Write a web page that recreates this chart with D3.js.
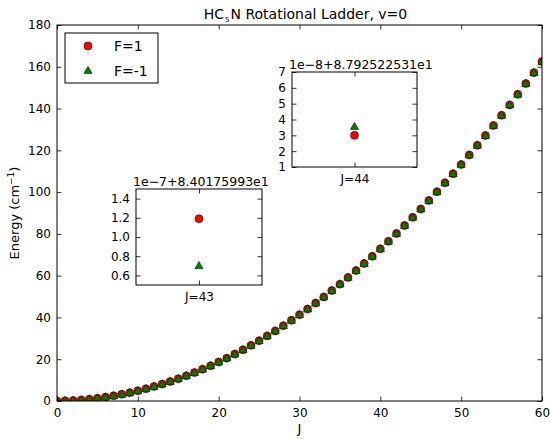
<!DOCTYPE html>
<html>
<head>
<meta charset="utf-8">
<script src="https://cdn.jsdelivr.net/npm/d3@7"></script>
<style>
  body { margin: 0; background: #fff; }
  svg { display: block; font-family: "DejaVu Sans", sans-serif; }
</style>
</head>
<body>
<div id="chart"></div>
<script>
// rotational quantum number J = 0..60
var J = d3.range(0, 61);

var energyF1 = [0, 0.09, 0.27, 0.53, 0.89, 1.33, 1.87, 2.49, 3.20, 4.00,
  4.88, 5.86, 6.93, 8.08, 9.33, 10.66, 12.08, 13.59, 15.19, 16.87,
  18.65, 20.52, 22.47, 24.51, 26.64, 28.86, 31.17, 33.57, 36.06, 38.63,
  41.30, 44.05, 46.89, 49.82, 52.84, 55.95, 59.15, 62.44, 65.81, 69.27,
  72.83, 76.47, 80.20, 84.02, 87.93, 91.92, 96.01, 100.18, 104.45, 108.80,
  113.24, 117.77, 122.39, 127.09, 131.89, 136.77, 141.75, 146.81, 151.96, 157.20,
  162.53];
var energyFm1 = energyF1.slice();

// zoomed insets: values in units of the offset scale
var inset43 = { J: 43, f1: 1.19, fm1: 0.70, domain: [0.5, 1.5], ticks: [0.6, 0.8, 1.0, 1.2, 1.4], offset: "1e\u22127+8.40175993e1" };
var inset44 = { J: 44, f1: 3.0, fm1: 3.55, domain: [1, 7], ticks: [1, 2, 3, 4, 5, 6, 7], offset: "1e\u22128+8.792522531e1" };

var xTicks = [0, 10, 20, 30, 40, 50, 60];
var yTicks = [0, 20, 40, 60, 80, 100, 120, 140, 160, 180];

var W = 550, H = 439;
var red = "#ff0000", green = "#007f00";

var svg = d3.select("#chart").append("svg")
  .attr("width", W).attr("height", H);

svg.append("rect").attr("width", W).attr("height", H).attr("fill", "#fff");

// main axes box
var box = { left: 57, right: 542, top: 25, bottom: 401 };

var x = d3.scaleLinear().domain([0, 60]).range([box.left, box.right]);
var y = d3.scaleLinear().domain([0, 180]).range([box.bottom, box.top]);

function styleAxis(g) {
  g.select(".domain").remove();
  g.selectAll("line").attr("stroke", "#000").attr("stroke-width", 0.8);
  g.selectAll("text").attr("fill", "#000").style("font-size", "12px")
    .style("font-family", "DejaVu Sans, sans-serif");
}

// clip for main markers
svg.append("clipPath").attr("id", "mainclip").append("rect")
  .attr("x", box.left).attr("y", box.top)
  .attr("width", box.right - box.left).attr("height", box.bottom - box.top);

var tri = d3.symbol().type(d3.symbolTriangle).size(30);

var pts = svg.append("g").attr("clip-path", "url(#mainclip)");
pts.selectAll("circle").data(J).enter().append("circle")
  .attr("cx", function(d) { return x(d); })
  .attr("cy", function(d, i) { return y(energyF1[i]); })
  .attr("r", 4)
  .attr("fill", red).attr("stroke", "#000").attr("stroke-width", 0.5);
pts.selectAll("path.tri").data(J).enter().append("path").attr("class", "tri")
  .attr("d", tri)
  .attr("transform", function(d, i) { return "translate(" + x(d) + "," + (y(energyFm1[i]) + 0.5) + ")"; })
  .attr("fill", green).attr("stroke", "#000").attr("stroke-width", 0.5);

// axes
svg.append("g").attr("transform", "translate(0," + box.bottom + ")")
  .call(d3.axisBottom(x).tickValues(xTicks).tickSizeInner(-4.5).tickSizeOuter(0).tickPadding(7))
  .call(styleAxis);
svg.append("g").attr("transform", "translate(0," + box.top + ")")
  .call(d3.axisTop(x).tickValues(xTicks).tickFormat("").tickSizeInner(-4.5).tickSizeOuter(0))
  .call(styleAxis);
svg.append("g").attr("transform", "translate(" + box.left + ",0)")
  .call(d3.axisLeft(y).tickValues(yTicks).tickSizeInner(-4.5).tickSizeOuter(0).tickPadding(6))
  .call(styleAxis);
svg.append("g").attr("transform", "translate(" + box.right + ",0)")
  .call(d3.axisRight(y).tickValues(yTicks).tickFormat("").tickSizeInner(-4.5).tickSizeOuter(0))
  .call(styleAxis);

svg.append("rect")
  .attr("x", box.left).attr("y", box.top)
  .attr("width", box.right - box.left).attr("height", box.bottom - box.top)
  .attr("fill", "none").attr("stroke", "#000").attr("stroke-width", 1);

// title
var title = svg.append("text").attr("x", (box.left + box.right) / 2 + 6).attr("y", 19)
  .attr("text-anchor", "middle").style("font-size", "14px").attr("fill", "#000");
title.append("tspan").text("HC");
title.append("tspan").attr("dy", 3).attr("dx", 1).style("font-size", "7px").text("5");
title.append("tspan").attr("dy", -3).attr("dx", 1).text("N Rotational Ladder, v=0");

// axis labels
svg.append("text").attr("x", (box.left + box.right) / 2).attr("y", 433)
  .attr("text-anchor", "middle").style("font-size", "13px").text("J");
var ylab = svg.append("text")
  .attr("transform", "translate(19," + ((box.top + box.bottom) / 2) + ") rotate(-90)")
  .attr("text-anchor", "middle").style("font-size", "13px");
ylab.append("tspan").text("Energy (cm");
ylab.append("tspan").attr("dy", -5).style("font-size", "9px").text("\u22121");
ylab.append("tspan").attr("dy", 5).text(")");

// legend
var leg = svg.append("g");
leg.append("rect").attr("x", 65).attr("y", 33).attr("width", 93).attr("height", 50)
  .attr("fill", "#fff").attr("stroke", "#000").attr("stroke-width", 1);
leg.append("circle").attr("cx", 88).attr("cy", 46).attr("r", 4)
  .attr("fill", red).attr("stroke", "#000").attr("stroke-width", 0.5);
leg.append("path").attr("d", tri).attr("transform", "translate(88,71)")
  .attr("fill", green).attr("stroke", "#000").attr("stroke-width", 0.5);
leg.append("text").attr("x", 114).attr("y", 51).style("font-size", "14px").text("F=1");
leg.append("text").attr("x", 114).attr("y", 76).style("font-size", "14px").text("F=-1");

// insets
function drawInset(d, b) {
  var g = svg.append("g");
  var ix = d3.scaleLinear().domain([d.J - 1, d.J + 1]).range([b.left, b.right]);
  var iy = d3.scaleLinear().domain(d.domain).range([b.bottom, b.top]);
  g.append("rect").attr("x", b.left).attr("y", b.top)
    .attr("width", b.right - b.left).attr("height", b.bottom - b.top).attr("fill", "#fff");

  g.append("g").attr("transform", "translate(0," + b.bottom + ")")
    .call(d3.axisBottom(ix).tickValues([d.J]).tickFormat(function(v) { return "J=" + v; })
      .tickSizeInner(-4.5).tickSizeOuter(0).tickPadding(7))
    .call(styleAxis);
  g.append("g").attr("transform", "translate(0," + b.top + ")")
    .call(d3.axisTop(ix).tickValues([d.J]).tickFormat("").tickSizeInner(-4.5).tickSizeOuter(0))
    .call(styleAxis);
  g.append("g").attr("transform", "translate(" + b.left + ",0)")
    .call(d3.axisLeft(iy).tickValues(d.ticks).tickFormat(d3.format(d.ticks[0] % 1 ? ".1f" : "d"))
      .tickSizeInner(-4.5).tickSizeOuter(0).tickPadding(6))
    .call(styleAxis);
  g.append("g").attr("transform", "translate(" + b.right + ",0)")
    .call(d3.axisRight(iy).tickValues(d.ticks).tickFormat("").tickSizeInner(-4.5).tickSizeOuter(0))
    .call(styleAxis);

  g.append("circle").attr("cx", ix(d.J)).attr("cy", iy(d.f1)).attr("r", 4)
    .attr("fill", red).attr("stroke", "#000").attr("stroke-width", 0.5);
  g.append("path").attr("d", tri)
    .attr("transform", "translate(" + ix(d.J) + "," + (iy(d.fm1) + 0.5) + ")")
    .attr("fill", green).attr("stroke", "#000").attr("stroke-width", 0.5);

  g.append("rect").attr("x", b.left).attr("y", b.top)
    .attr("width", b.right - b.left).attr("height", b.bottom - b.top)
    .attr("fill", "none").attr("stroke", "#000").attr("stroke-width", 1);
  g.append("text").attr("x", b.left - 3).attr("y", b.top - 3)
    .style("font-size", "12.5px").text(d.offset);
}

drawInset(inset43, { left: 136, right: 262, top: 189, bottom: 285 });
drawInset(inset44, { left: 292, right: 417, top: 72, bottom: 167 });
</script>
</body>
</html>
